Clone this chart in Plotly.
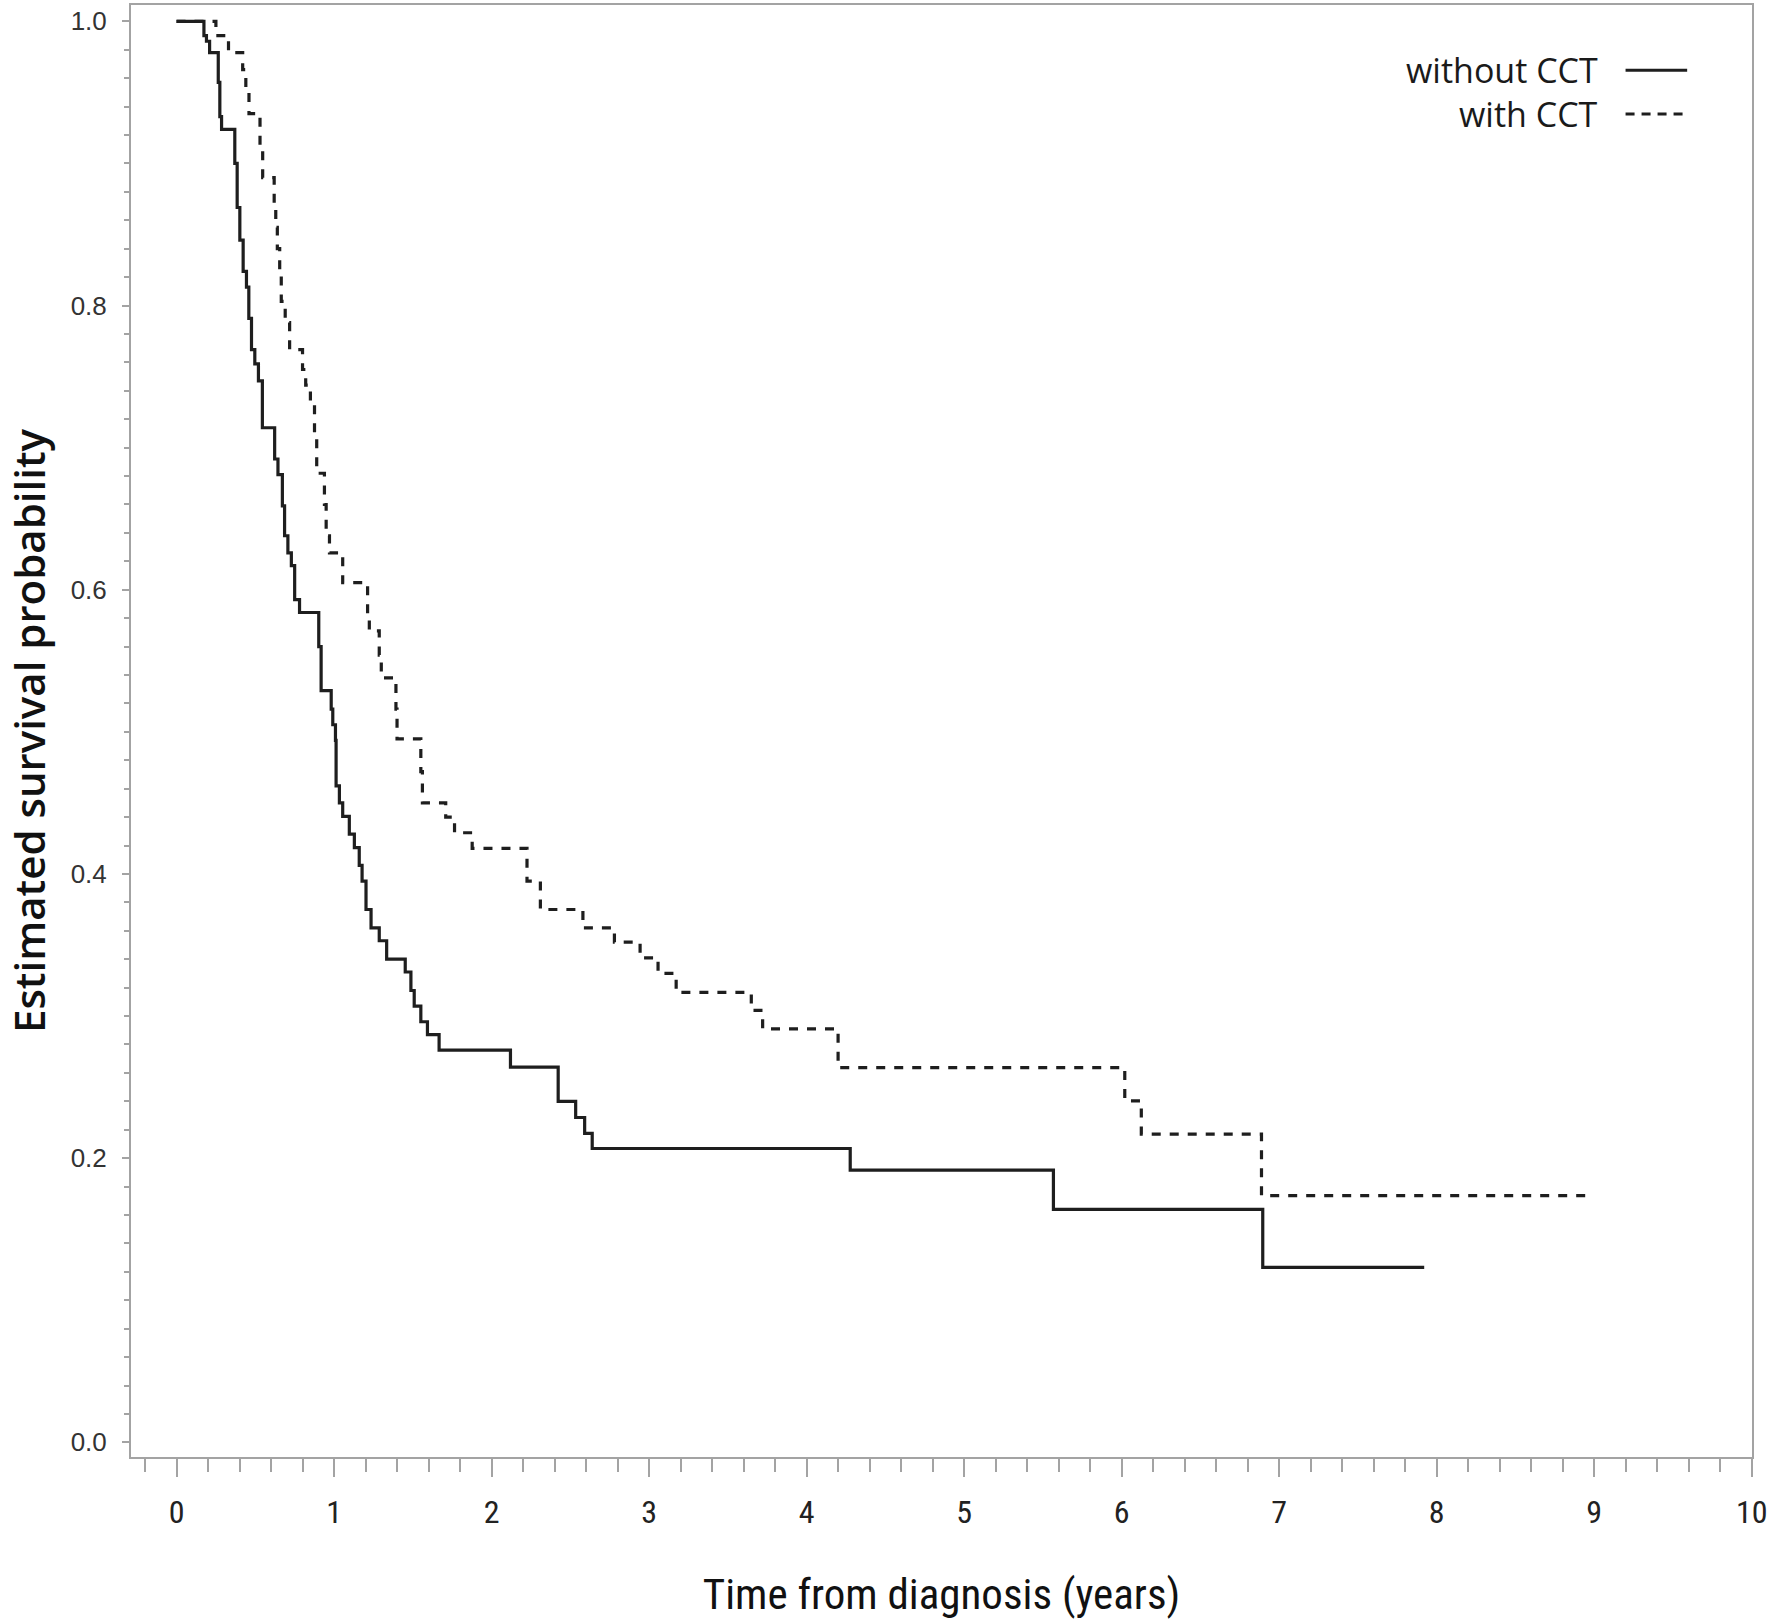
import plotly.graph_objects as go

# ---- Data ----
# Group: without CCT  (time of each step in years, survival after the step)
t_without = [0.0, 0.174, 0.19, 0.21, 0.265, 0.275, 0.286, 0.370, 0.385, 0.402,
             0.423, 0.444, 0.459, 0.476, 0.497, 0.52, 0.545, 0.623, 0.644, 0.672,
             0.686, 0.707, 0.729, 0.750, 0.781, 0.903, 0.918, 0.982, 0.992, 1.009,
             1.013, 1.034, 1.055, 1.097, 1.129, 1.160, 1.178, 1.203, 1.235, 1.287,
             1.334, 1.452, 1.488, 1.509, 1.551, 1.593, 1.667, 2.12, 2.423, 2.534,
             2.591, 2.639, 4.277, 5.567, 6.896]
s_without = [1.0, 0.990, 0.986, 0.978, 0.957, 0.933, 0.924, 0.900, 0.869, 0.846,
             0.824, 0.813, 0.791, 0.769, 0.759, 0.747, 0.714, 0.692, 0.681, 0.659,
             0.638, 0.626, 0.617, 0.593, 0.584, 0.560, 0.529, 0.516, 0.505, 0.494,
             0.462, 0.450, 0.4405, 0.428, 0.4185, 0.406, 0.395, 0.375, 0.362, 0.353,
             0.340, 0.331, 0.318, 0.307, 0.296, 0.287, 0.276, 0.264, 0.240, 0.2286,
             0.2174, 0.2068, 0.1916, 0.1640, 0.1232]
end_without = 7.921

# Group: with CCT
t_with = [0.0, 0.25, 0.33, 0.42, 0.44, 0.46, 0.53, 0.547, 0.62, 0.63,
          0.64, 0.655, 0.665, 0.69, 0.718, 0.80, 0.82, 0.85, 0.876, 0.89,
          0.939, 0.95, 0.971, 1.055, 1.213, 1.224, 1.287, 1.30, 1.393, 1.40,
          1.551, 1.561, 1.709, 1.765, 1.877, 2.225, 2.31, 2.58, 2.78, 2.943,
          3.057, 3.172, 3.649, 3.721, 4.20, 6.02, 6.125, 6.888]
s_with = [1.0, 0.990, 0.978, 0.966, 0.952, 0.935, 0.912, 0.890, 0.870, 0.855,
          0.840, 0.825, 0.803, 0.788, 0.769, 0.755, 0.744, 0.733, 0.708, 0.682,
          0.660, 0.638, 0.626, 0.605, 0.583, 0.571, 0.554, 0.538, 0.516, 0.495,
          0.472, 0.450, 0.440, 0.429, 0.418, 0.395, 0.375, 0.362, 0.352, 0.341,
          0.330, 0.3166, 0.304, 0.291, 0.2637, 0.2403, 0.2169, 0.1736]
end_with = 8.97

x_ticks = [0, 1, 2, 3, 4, 5, 6, 7, 8, 9, 10]
y_ticks = [0.0, 0.2, 0.4, 0.6, 0.8, 1.0]
y_ticktext = ["0.0", "0.2", "0.4", "0.6", "0.8", "1.0"]
series_names = ["without CCT", "with CCT"]

# ---- Figure ----
LINE_COLOR = "#1e1e1e"
AXIS_COLOR = "#a3a3a3"
NARROW = "Liberation Sans Narrow, Arial Narrow, Roboto Condensed, Liberation Sans, sans-serif"

fig = go.Figure()
fig.add_trace(go.Scatter(
    x=t_without + [end_without], y=s_without + [s_without[-1]],
    mode="lines", line=dict(shape="hv", color=LINE_COLOR, width=3.2),
    name=series_names[0], showlegend=False))
fig.add_trace(go.Scatter(
    x=t_with + [end_with], y=s_with + [s_with[-1]],
    mode="lines", line=dict(shape="hv", color=LINE_COLOR, width=3.2, dash="9px,9px"),
    name=series_names[1], showlegend=False))

# Legend (text to the left of the line sample, as in the reference)
leg_y = [0.955, 0.925]
for name, yy, dash in zip(series_names, leg_y, ["solid", "9px,7px"]):
    fig.add_annotation(xref="paper", yref="paper", x=0.906, y=yy, text=name,
                       showarrow=False, xanchor="right", yanchor="middle",
                       font=dict(family="Open Sans, sans-serif", size=34, color="#1a1a1a"))
    fig.add_shape(type="line", xref="paper", yref="paper", x0=0.922, x1=0.960,
                  y0=yy, y1=yy, line=dict(color=LINE_COLOR, width=3, dash=dash))

fig.update_layout(
    width=1770, height=1621,
    margin=dict(l=131, r=13, t=3, b=164),
    plot_bgcolor="white", paper_bgcolor="white",
    showlegend=False,
    xaxis=dict(
        range=[-0.289, 10.002], tickvals=x_ticks, ticks="outside", ticklen=18,
        tickwidth=2, tickcolor=AXIS_COLOR, showgrid=False, zeroline=False,
        showline=True, linecolor=AXIS_COLOR, linewidth=2, mirror=True,
        tickfont=dict(family=NARROW, size=32, color="#222"),
        ticklabelstandoff=8, ticklabeloverflow="allow",
        minor=dict(dtick=0.2, tick0=0, ticks="outside", ticklen=13,
                   tickwidth=2, tickcolor=AXIS_COLOR, showgrid=False),
        title=dict(text="Time from diagnosis (years)", standoff=48,
                   font=dict(family=NARROW, size=43, color="#111")),
    ),
    yaxis=dict(
        range=[-0.0103, 1.0115], tickvals=y_ticks, ticktext=y_ticktext,
        ticks="outside", ticklen=7, tickwidth=2, tickcolor=AXIS_COLOR,
        showgrid=False, zeroline=False, showline=True, linecolor=AXIS_COLOR,
        linewidth=2, mirror=True,
        tickfont=dict(family="Liberation Sans, Arial, sans-serif", size=26, color="#333"),
        ticklabelstandoff=10,
        minor=dict(dtick=0.02, tick0=0, ticks="outside", ticklen=5,
                   tickwidth=2, tickcolor=AXIS_COLOR, showgrid=False),
        title=dict(text="Estimated survival probability", standoff=32,
                   font=dict(family="Open Sans, sans-serif", size=42, color="#111",
                             weight=600)),
    ),
)

fig.write_html("out.html", config={"displayModeBar": False},
               post_script="document.body.style.margin='0';document.body.style.padding='0';")
